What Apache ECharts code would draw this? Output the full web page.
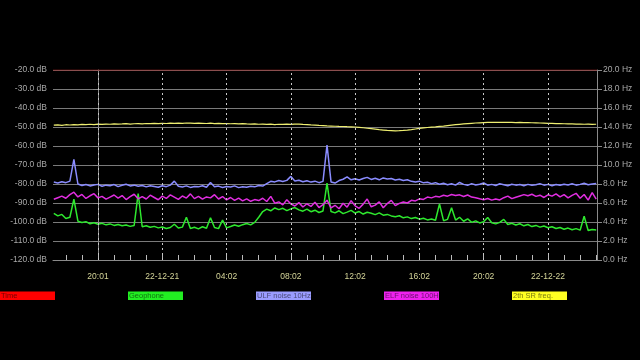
<!DOCTYPE html>
<html><head><meta charset="utf-8">
<script src="https://cdn.jsdelivr.net/npm/echarts@6/dist/echarts.min.js"></script>
<style>html,body{margin:0;padding:0;background:#000;}#c{width:640px;height:360px;}</style>
</head><body><div id="c"></div>
<script>
// ---- data ----
const seriesNames = ['Time', 'Geophone', 'ULF noise 10Hz', 'ELF noise 100Hz', '2th SR freq.'];
const xLabelPos = [0, 4, 8, 12, 16, 20, 24, 28];           // hours relative to first label
const xLabelText = ['20:01', '22-12-21', '04:02', '08:02', '12:02', '16:02', '20:02', '22-12-22'];
const xMin = -2.8, xMax = 31.05;
const sampleStart = -2.75, sampleStep = 0.25;              // sampling every 15 minutes
const timeLevel = [-20, -20];
const ulf10 = [-79,-79.5,-78.8,-79.3,-78.5,-67,-80,-80.8,-80.3,-81,-80.5,-80.2,-81.2,-80.6,-80.9,-80.3,-81.4,-80.7,-80.1,-81,-80.6,
-81.2,-80.8,-81.5,-80.9,-81.3,-81.7,-80.9,-81.4,-80.6,-78.5,-81.2,-81.6,-81,-81.8,-81.3,-81.5,-80.9,-81.7,-79.2,-81.4,-81.1,-81.8,-81.3,-81.6,-81,-81.9,-81.4,-81.7,-81.2,-81.5,-80.8,-81.1,
-79.8,-78.6,-78.9,-78.2,-78.7,-78.1,-76,-78.4,-78,-78.8,-78.3,-79,-78.5,-79.3,-78.6,
-59.5,
-78.9,-79.5,-78.2,-77.5,-76.3,-77.8,-77.2,-77.9,-77.1,-76.5,-77.6,-77,-77.8,-76.8,-77.4,-77.1,-77.9,
-77.5,-78.2,-77.8,-78.6,-79,-78.5,-79.4,-79.1,-79.8,-79.3,-80.1,
-79.6,-80.4,-79.9,-80.6,-79.2,-80.2,-80.7,-79.8,-80.5,-80.1,-79.4,-80.6,-80.2,-80.8,-79.9,-80.4,-80.9,-80.1,-80.6,-80.3,-80.9,-80.2,-80.7,-80.4,-79.8,-80.6,-80.2,-80.9,-80.3,-80.7,-80.1,-80.5,-79.9,-80.6,-80.2,-79.6,-80.4,-80,-79.8];
const elf100 = [-88,-87.2,-86.4,-87.5,-85.6,-84.3,-86.8,-85.5,-87.6,-86.2,-85.1,-87.3,-86.5,-88,-86.9,-85.8,-87.4,-86.1,-88.2,-86.7,-85.4,-87.8,-86.6,-87.9,-85.9,-87.1,-88.3,-86.4,-87.6,-85.7,-86.9,-88.1,-86.3,-87.4,-85.2,-87.7,-86.5,-88,-86.8,-87.3,-85.6,-87.9,-86.6,-88.4,-87.1,-88.6,-87.4,-88.9,-87.8,-89.1,-88.2,-88.7,-87.5,
-89.2,-86.5,-90.1,-89.4,-91,-88.3,-90.5,-91.6,-89.8,-92.1,-90.4,-91.8,-89.6,-92.4,-90.9,-88.5,-92.6,-91.2,-93,-90.1,-92.2,-88.8,-91.5,-92.8,-90.6,-87.9,-92,-91.1,-89.4,-92.5,-90.3,-88.6,-91.4,
-90.2,-89.5,-90,-88.6,-88.9,-87.8,-88.1,-86.9,-87.3,-86.5,-86.8,
-85.9,-86.4,-85.5,-86.1,-85.7,-86.6,-85.8,-86.9,-87.2,-87.8,-88.3,-87.6,-88.5,-87.9,-88.4,-87.2,-86.4,-87.7,-87,-86.3,-85.6,-86.2,-85.4,-86.5,-85.9,-87.1,-85.7,-86.4,-85.2,-86.8,-85.6,-87.3,-86,-84.9,-87.5,-85.5,-88.5,-84.5,-88];
const geophone = [-95.5,-96.8,-96,-98.2,-97.5,-88,-99.6,-100.3,-99.8,-100.9,-100.4,-101.2,-100.7,-101.5,-101,-101.8,-101.3,-102,-101.6,-102.3,-101.8,-85,-102.5,-102,-102.8,-102.3,-103.1,-102.6,-103.4,-102.9,-101.2,-103.2,-102.7,-97.5,-103.4,-102.8,-103.6,-102.5,-103.3,-97.8,-102.9,-103.5,-99,-103.1,-102.4,-101.6,-102.2,-101.4,-100.8,-101.5,-100.2,-97.5,-94.5,
-93.2,-94.1,-92.6,-93.5,-92.8,-94,-93.1,-92.4,-93.6,-94.3,-93.2,-94.6,-93.8,-95,-94.2,-79.5,-94.5,-95.2,-94.1,-95.6,-94.8,-93.9,-95.3,-94.5,-95.8,-94.9,-95.4,-96.1,-95.2,-96.4,-96,-96.8,-97.2,-96.7,-97.8,-97.3,-98.2,-97.6,-98.5,-98,-98.9,-98.4,-99.1,-90.5,-99.3,-98.6,-92.5,-99,-97.5,-99.6,-98.3,-100.2,-99.4,-100.5,-99.8,-97.6,-100.4,-101,-100.2,-98.6,-101.3,-100.7,-101.6,-100.9,-102,-101.3,-102.4,-101.8,-102.7,-102.1,-103,-102.5,-103.4,-102.9,-103.8,-103.2,-104.1,-103.5,-104.3,-97,-104.5,-103.9,-104.2];
const srFreq = [14.2,14.22,14.18,14.24,14.21,14.26,14.23,14.27,14.25,14.29,14.26,14.3,14.28,14.31,14.29,14.33,14.3,14.32,14.35,14.31,14.34,14.36,14.33,14.37,14.35,14.38,14.36,14.39,14.37,14.4,14.38,14.41,14.39,14.42,14.4,14.38,14.41,14.39,14.37,14.4,14.36,14.38,14.35,14.37,14.34,14.36,14.33,14.35,14.32,14.3,14.33,14.29,14.31,14.28,14.3,14.26,14.29,14.27,14.3,14.28,14.31,14.3,14.27,14.25,14.22,14.2,14.17,14.15,14.12,14.1,14.08,14.06,14.05,14.03,14.02,14.0,13.96,13.92,13.87,13.82,13.77,13.72,13.68,13.64,13.62,13.6,13.61,13.64,13.68,13.73,13.79,13.85,13.9,13.95,13.99,14.02,14.06,14.1,14.15,14.2,14.24,14.28,14.32,14.36,14.39,14.42,14.44,14.46,14.48,14.49,14.5,14.49,14.5,14.48,14.49,14.47,14.48,14.46,14.47,14.45,14.44,14.42,14.41,14.39,14.38,14.36,14.35,14.34,14.33,14.32,14.31,14.3,14.29,14.3,14.28,14.29];

const colors = { time:'#9a2222', geo:'#2ee82e', ulf:'#8a8cff', elf:'#e02ee0', sr:'#eeee70' };
const legendColors = ['#ff0000', '#22ee22', '#9a9cff', '#ee22ee', '#ffff22'];

function pairs(arr){ return arr.map((v,i)=>[sampleStart + i*sampleStep, v]); }
const hourTicks = []; for (let h = -2; h <= 31; h++) hourTicks.push(h);

const chart = echarts.init(document.getElementById('c'), null, {renderer:'canvas'});
const font = 'Liberation Sans';
const legendGraphics = [];
seriesNames.forEach((n,i)=>{
  legendGraphics.push({type:'rect', left:128*i, top:291.5, shape:{width:55, height:8.5}, style:{fill:legendColors[i]}, silent:true});
  legendGraphics.push({type:'text', left:128*i+1, top:292, style:{text:n, fill:'rgba(0,0,0,0.55)', font:'7.5px '+font}, silent:true});
});

chart.setOption({
  backgroundColor:'#000',
  animation:false,
  grid:{left:53, right:43, top:70, bottom:100, containLabel:false, outerBoundsMode:'none'},
  xAxis:{type:'value', min:xMin, max:xMax,
    axisLine:{show:true, lineStyle:{color:'#8a8a8a', width:1}},
    axisTick:{show:true, inside:true, length:5, customValues:hourTicks, lineStyle:{color:'#bbbbbb'}},
    axisLabel:{customValues:xLabelPos, color:'#d4d498', fontSize:8.5, fontFamily:font, margin:12,
      formatter:(v)=>{ const k = xLabelPos.indexOf(Math.round(v)); return k>=0 ? xLabelText[k] : ''; }},
    splitLine:{show:false}},
  yAxis:[
    {type:'value', min:-120, max:-20, interval:10, name:'dBm (radio signals)', nameLocation:'middle', nameGap:45, nameRotate:90,
      nameTextStyle:{color:'#9a9a9a', fontSize:7.5, fontFamily:font},
      axisLine:{show:true, lineStyle:{color:'#8a8a8a'}}, axisTick:{show:true, length:5, lineStyle:{color:'#8a8a8a'}},
      axisLabel:{color:'#a8a8a8', fontSize:8.5, fontFamily:font, margin:6, formatter:(v)=>v.toFixed(1)+' dB'},
      splitLine:{show:true, lineStyle:{color:'#7a7a7a', width:1}}},
    {type:'value', min:0, max:20, interval:2, position:'right', name:'Hz (2th Schumann res. freq.)', nameLocation:'middle', nameGap:31, nameRotate:90,
      nameTextStyle:{color:'#9a9a9a', fontSize:7.5, fontFamily:font},
      axisLine:{show:true, lineStyle:{color:'#8a8a8a'}}, axisTick:{show:true, length:5, lineStyle:{color:'#8a8a8a'}},
      axisLabel:{color:'#a8a8a8', fontSize:8.5, fontFamily:font, margin:6, formatter:(v)=>v.toFixed(1)+' Hz'},
      splitLine:{show:false}}
  ],
  graphic: legendGraphics,
  series:[
    {name:seriesNames[0], type:'line', data:[[xMin,timeLevel[0]],[xMax,timeLevel[1]]], symbol:'none', lineStyle:{color:colors.time, width:1.2}, z:5,
      markLine:{silent:true, symbol:['none','none'], label:{show:false}, lineStyle:{color:'#c8c8c8', type:[2,3], width:1},
        data:xLabelPos.map(v=>({xAxis:v}))}},
    {name:seriesNames[1], type:'line', data:pairs(geophone), symbol:'none', lineStyle:{color:colors.geo, width:1.5}},
    {name:seriesNames[2], type:'line', data:pairs(ulf10), symbol:'none', lineStyle:{color:colors.ulf, width:1.5}},
    {name:seriesNames[3], type:'line', data:pairs(elf100), symbol:'none', lineStyle:{color:colors.elf, width:1.5}},
    {name:seriesNames[4], type:'line', yAxisIndex:1, data:pairs(srFreq), symbol:'none', lineStyle:{color:colors.sr, width:1.2}}
  ]
});
</script></body></html>
